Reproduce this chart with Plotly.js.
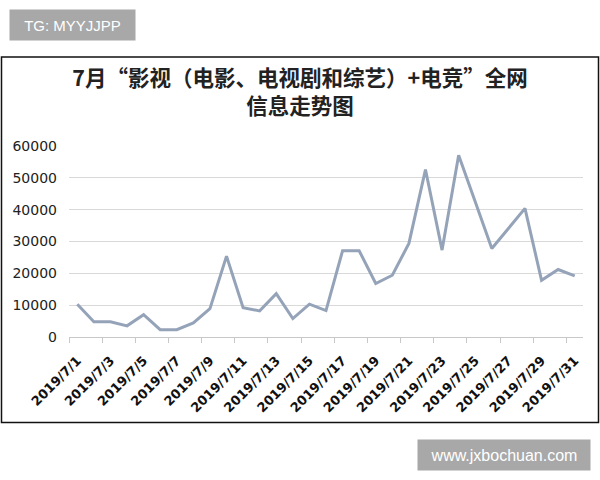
<!DOCTYPE html>
<html>
<head>
<meta charset="utf-8">
<script src="https://cdn.plot.ly/plotly-3.0.1.min.js"></script>
<style>html,body{margin:0;padding:0;background:#fff;}#chart{width:600px;height:480px;}</style>
</head>
<body>
<div id="chart"></div>
<script>
const days = [1,2,3,4,5,6,7,8,9,10,11,12,13,14,15,16,17,18,19,20,21,22,23,24,25,26,27,28,29,30,31];
const dateLabels = ["2019/7/1","2019/7/3","2019/7/5","2019/7/7","2019/7/9","2019/7/11","2019/7/13","2019/7/15","2019/7/17","2019/7/19","2019/7/21","2019/7/23","2019/7/25","2019/7/27","2019/7/29","2019/7/31"];
const labelDays = [1,3,5,7,9,11,13,15,17,19,21,23,25,27,29,31];
const values = [10300,4800,4800,3500,7000,2300,2300,4400,8900,25400,9200,8200,13600,5800,10300,8300,27100,27100,16800,19400,29400,52600,27300,57100,42500,27800,34100,40400,17800,21200,19200];
const yTicks = [0,10000,20000,30000,40000,50000,60000];
const boundaryTicks = [0.5,2.5,4.5,6.5,8.5,10.5,12.5,14.5,16.5,18.5,20.5,22.5,24.5,26.5,28.5,30.5];
const titleText = "7月“影视（电影、电视剧和综艺）+电竞”全网<br>信息走势图";

const L = 69, R = 583, T = 146, B = 337;
const px = v => (v - L) / (R - L);
const py = v => (B - v) / (B - T);

const trace = {
  x: days, y: values, type: 'scatter', mode: 'lines',
  line: {color: '#95a3b9', width: 3},
  hoverinfo: 'skip', showlegend: false
};
const tickHolder = {
  x: [0.5], y: [0], xaxis: 'x2', yaxis: 'y', type: 'scatter', mode: 'none',
  hoverinfo: 'skip', showlegend: false
};

const layout = {
  width: 600, height: 480,
  margin: {l: L, r: 600 - R, t: T, b: 480 - B},
  paper_bgcolor: '#fff', plot_bgcolor: '#fff',
  title: {
    text: titleText,
    font: {family: 'Noto Sans CJK SC', size: 21.5, color: '#222', weight: 'bold'},
    x: 0.5, xref: 'container', xanchor: 'center',
    y: 1 - 86/480, yref: 'container', yanchor: 'top'
  },
  xaxis: {
    range: [0.5, 31.5], tickvals: labelDays, ticktext: dateLabels,
    tickangle: -45, ticks: '', showgrid: false, zeroline: false,
    showline: true, linecolor: '#c8c8c8', linewidth: 1, ticklabelstandoff: 10,
    tickfont: {family: 'DejaVu Sans', size: 13, color: '#111', weight: 'bold'},
    fixedrange: true
  },
  xaxis2: {
    range: [0.5, 31.5], overlaying: 'x', anchor: 'y', side: 'bottom',
    tickvals: boundaryTicks, showticklabels: false, ticks: 'outside',
    ticklen: 5, tickcolor: '#c8c8c8', tickwidth: 1, showgrid: false,
    zeroline: false, showline: false, fixedrange: true
  },
  yaxis: {
    range: [0, 60000], tickvals: yTicks, ticktext: yTicks.map(String),
    showgrid: true, gridcolor: '#d9d9d9', gridwidth: 1, zeroline: false,
    showline: false, ticks: '', ticklabelstandoff: 11,
    tickfont: {family: 'DejaVu Sans', size: 14, color: '#222'},
    fixedrange: true
  },
  shapes: [{
    type: 'rect', xref: 'paper', yref: 'paper',
    x0: px(1.5), x1: px(598.5), y0: py(422.5), y1: py(57),
    line: {color: '#111', width: 1.5}, fillcolor: 'rgba(0,0,0,0)', layer: 'below'
  }],
  annotations: [
    {text: 'TG: MYYJJPP', xref: 'paper', yref: 'paper', x: px(72.5), y: py(25),
     xanchor: 'center', yanchor: 'middle', showarrow: false, width: 125, height: 30,
     bgcolor: '#a8a8a8', borderpad: 0,
     font: {family: 'Liberation Sans', size: 15, color: '#fff'}},
    {text: 'www.jxbochuan.com', xref: 'paper', yref: 'paper', x: px(504), y: py(455),
     xanchor: 'center', yanchor: 'middle', showarrow: false, width: 172, height: 30,
     bgcolor: '#a8a8a8', borderpad: 0,
     font: {family: 'Liberation Sans', size: 16, color: '#fff'}}
  ]
};

Plotly.newPlot('chart', [trace, tickHolder], layout, {displayModeBar: false, staticPlot: true});
</script>
</body>
</html>
